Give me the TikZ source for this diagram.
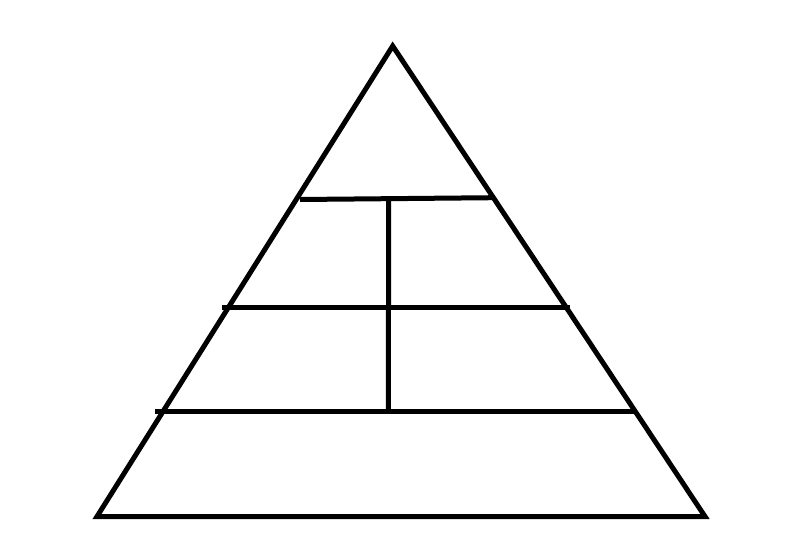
\documentclass[tikz,border=0pt]{standalone}
\begin{document}
\begin{tikzpicture}[x=1pt,y=-1pt,
  stroke/.style={line width=5pt,draw=black,line join=miter}]
\useasboundingbox (0,0) rectangle (800,533);
\fill[white] (0,0) rectangle (800,533);
\coordinate (apex) at (392.7,46);
\coordinate (bl) at (97,516.5);
\coordinate (br) at (705,516.5);
\draw[stroke] (apex) -- (bl) -- (br) -- cycle;
\draw[stroke] (300,199.5) -- (493,197.7);
\draw[stroke] (222,307.3) -- (570,307.3);
\draw[stroke] (155,411.5) -- (635,411.5);
\draw[stroke] (388.7,198.6) -- (388.3,411.5);
\end{tikzpicture}
\end{document}
